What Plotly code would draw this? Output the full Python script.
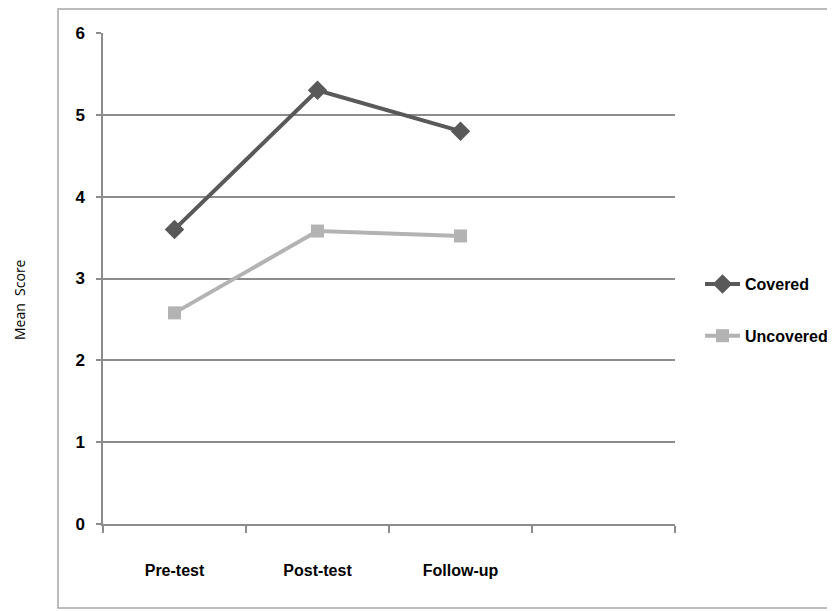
import plotly.graph_objects as go

categories = ["Pre-test", "Post-test", "Follow-up"]
all_slots = ["Pre-test", "Post-test", "Follow-up", " "]
covered = [3.6, 5.3, 4.8]
uncovered = [2.58, 3.58, 3.52]
y_ticks = [0, 1, 2, 3, 4, 5, 6]
y_title = "Mean  Score"

FONT = "Liberation Sans Narrow, Arial Narrow, Liberation Sans, sans-serif"

fig = go.Figure()
fig.add_trace(go.Scatter(
    x=categories, y=covered, name="Covered", mode="lines+markers",
    line=dict(color="#595959", width=4),
    marker=dict(symbol="diamond", size=15, color="#595959"),
    legendgroup="a",
))
fig.add_trace(go.Scatter(
    x=categories, y=uncovered, name="Uncovered", mode="lines+markers",
    line=dict(color="#b3b3b3", width=4),
    marker=dict(symbol="square", size=13, color="#b3b3b3"),
    legendgroup="b",
))

# page body has an 8px margin; work in figure coordinates (screen - 8)
OFF = 8
W, H = 835 - OFF, 611 - OFF
L, T = 103 - OFF, 33 - OFF
pw, ph = 572, 491
R, B = W - L - pw, H - T - ph

def px_x(p):
    return (p - OFF - L) / pw

def px_y(p):
    return (T + ph - (p - OFF)) / ph

fig.add_shape(type="rect", xref="paper", yref="paper",
              x0=px_x(58), x1=px_x(850), y0=px_y(608), y1=px_y(9),
              line=dict(color="#a6a6a6", width=1.5), fillcolor="rgba(0,0,0,0)",
              layer="below")

fig.add_annotation(text=y_title, xref="paper", yref="paper",
                   x=px_x(19), y=px_y(300), xanchor="center", yanchor="middle",
                   textangle=-90, showarrow=False,
                   font=dict(family="Open Sans, sans-serif", size=14, color="black"))

fig.update_layout(
    width=W, height=H,
    margin=dict(l=L, r=R, t=T, b=B, pad=0, autoexpand=False),
    paper_bgcolor="white", plot_bgcolor="white",
    font=dict(family=FONT, color="black"),
    showlegend=True,
    legend=dict(x=px_x(700), xanchor="left", y=px_y(310), yanchor="middle",
                font=dict(family=FONT, size=16, weight="bold"),
                tracegroupgap=28, itemwidth=35, bgcolor="rgba(0,0,0,0)"),
    xaxis=dict(type="category", categoryorder="array", categoryarray=all_slots,
               range=[-0.5, 3.5], tickson="boundaries", ticks="outside",
               ticklen=7, tickcolor="#8c8c8c", tickwidth=1.5,
               showline=True, linecolor="#8c8c8c", linewidth=1.5,
               showgrid=False, zeroline=False, automargin=False,
               tickfont=dict(family=FONT, size=16, weight="bold"),
               ticklabelstandoff=31, fixedrange=True),
    yaxis=dict(range=[0, 6], tickvals=y_ticks, ticks="outside", ticklen=5,
               tickcolor="#8c8c8c", tickwidth=1.5,
               showline=True, linecolor="#8c8c8c", linewidth=1.5,
               showgrid=True, gridcolor="#8c8c8c", gridwidth=1.5,
               zeroline=False, automargin=False,
               tickfont=dict(family=FONT, size=17, weight="bold"),
               ticklabelstandoff=8,
               fixedrange=True),
)

fig.write_html("out.html")
